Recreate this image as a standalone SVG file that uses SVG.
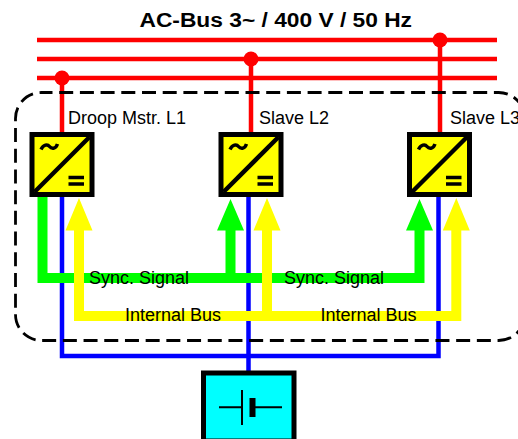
<svg xmlns="http://www.w3.org/2000/svg" width="518" height="439" viewBox="0 0 518 439">
<style>
text{font-family:"Liberation Sans",Arial,sans-serif;fill:#000}
.l{font-size:18px}
.t{font-size:19.500px;font-weight:bold}
.bus{stroke:#f00;stroke-width:4.500;fill:none}
.bl{stroke:#00f;stroke-width:4.500;fill:none}
.gr{stroke:#0f0;stroke-width:10;fill:none}
.ye{stroke:#ff0;stroke-width:10;fill:none}
.dot{fill:#f00}
.box{fill:#ff0;stroke:#000;stroke-width:5}
.k{stroke:#000;fill:none}
</style>
<defs>
<g id="conv">
<rect class="box" x="2.500" y="2.500" width="60" height="60"/>
<path class="k" stroke-width="4.500" d="M5 60L60 5"/>
<path class="k" stroke-width="3.500" d="M11.500 17.500C14 12.500 18 12 20 14.500C22 17 26 17.500 28 12"/>
<path class="k" stroke-width="3.500" d="M39 45.500H54.500M39 52H54.500"/>
</g>
</defs>
<text class="t" x="139.500" y="27" textLength="272.500" lengthAdjust="spacingAndGlyphs">AC-Bus 3~ / 400 V / 50 Hz</text>
<g id="connectors">
<path class="bl" d="M62 197V356H438.500V197M248.500 197V371"/>
<path class="gr" d="M42.500 197V278H419.500V228M230.500 278V228"/>
<path class="ye" d="M79 228V316H456.300V228M267 228V316"/>
<path fill="#0f0" d="M230.500 199L244 230.500H217ZM419.500 199L433 230.500H406Z"/>
<path fill="#ff0" d="M79 198L92.500 230.500H65.500ZM267 198L280.500 230.500H253.500ZM456.300 198L469.800 230.500H442.800Z"/>
<path class="bus" d="M37 40H497M37 59H497M37 78H497M62 78V132M251 59V132M440 40V132"/>
<circle class="dot" cx="62" cy="78" r="7.500"/>
<circle class="dot" cx="251" cy="59" r="7.500"/>
<circle class="dot" cx="440" cy="40" r="7.500"/>
</g>
<rect id="boundary" x="15.500" y="92.500" width="509.200" height="248" rx="26" ry="26" fill="none" stroke="#000" stroke-width="2.800" stroke-dasharray="14 6.700" stroke-dashoffset="3"/>
<g id="n1"><use href="#conv" x="29.500" y="132"/><text class="l" x="68" y="124">Droop Mstr. L1</text></g>
<g id="n2"><use href="#conv" x="218.500" y="132"/><text class="l" x="259" y="124">Slave L2</text></g>
<g id="n3"><use href="#conv" x="407" y="132"/><text class="l" x="450" y="124">Slave L3</text></g>
<g id="sync1"><text class="l" x="89" y="284">Sync. Signal</text></g>
<g id="sync2"><text class="l" x="284" y="284">Sync. Signal</text></g>
<g id="int1"><text class="l" x="125" y="321">Internal Bus</text></g>
<g id="int2"><text class="l" x="320.500" y="321">Internal Bus</text></g>
<g id="battery">
<rect x="203.500" y="373" width="90.500" height="68" fill="#0ff" stroke="#000" stroke-width="5"/>
<path class="k" stroke-width="2" d="M219 407.300H242M242 390V425M255 407.300H282"/>
<rect x="249.500" y="398" width="6" height="19"/>
</g>
</svg>
